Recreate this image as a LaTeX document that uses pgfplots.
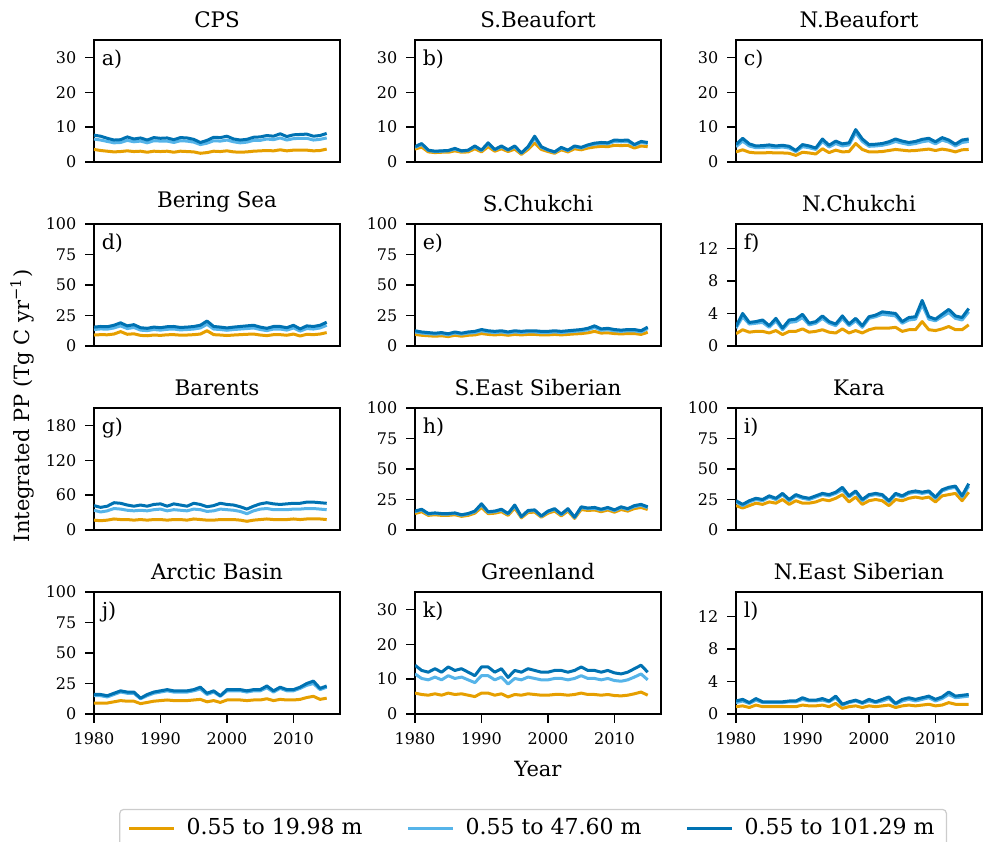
\documentclass[border=0pt]{standalone}
\usepackage{fontspec}
\setmainfont{DejaVu Serif}
\usepackage{pgfplots}
\usepackage{pgfplotstable}
\pgfplotsset{compat=1.18}
\usepgfplotslibrary{groupplots}
\definecolor{corange}{HTML}{E69F00}
\definecolor{clight}{HTML}{56B4E9}
\definecolor{cdark}{HTML}{0072B2}

\pgfplotstableread{
year o l d
1980 3.6 6.6 7.7
1981 3.3 6.3 7.4
1982 3.1 5.9 6.8
1983 2.9 5.5 6.3
1984 3.0 5.6 6.4
1985 3.2 6.2 7.2
1986 3.0 5.8 6.6
1987 3.1 6.0 6.9
1988 2.8 5.5 6.3
1989 3.1 6.1 7.0
1990 3.0 6.0 6.8
1991 3.1 6.0 6.9
1992 2.8 5.6 6.4
1993 3.1 6.1 7.0
1994 3.0 6.0 6.9
1995 2.9 5.7 6.5
1996 2.5 5.0 5.6
1997 2.7 5.4 6.2
1998 3.1 6.1 7.1
1999 3.0 6.0 7.0
2000 3.2 6.3 7.4
2001 2.9 5.8 6.6
2002 2.8 5.5 6.3
2003 2.9 5.7 6.5
2004 3.1 6.2 7.1
2005 3.2 6.2 7.2
2006 3.3 6.6 7.6
2007 3.2 6.4 7.4
2008 3.5 6.9 8.1
2009 3.2 6.3 7.3
2010 3.4 6.7 7.8
2011 3.4 6.8 7.9
2012 3.4 6.8 8.0
2013 3.2 6.3 7.4
2014 3.3 6.5 7.6
2015 3.7 6.9 8.2
}\ta

\pgfplotstableread{
year o l d
1980 3.7 4.2 4.4
1981 4.3 5.0 5.3
1982 2.9 3.3 3.4
1983 2.7 3.0 3.1
1984 2.8 3.1 3.2
1985 2.8 3.2 3.3
1986 3.2 3.7 3.9
1987 2.8 3.1 3.2
1988 2.9 3.3 3.4
1989 3.8 4.4 4.6
1990 2.9 3.3 3.4
1991 4.4 5.2 5.5
1992 3.1 3.5 3.6
1993 3.8 4.4 4.6
1994 3.0 3.4 3.5
1995 3.7 4.4 4.6
1996 2.2 2.5 2.6
1997 3.6 4.2 4.4
1998 5.5 6.8 7.4
1999 3.6 4.2 4.4
2000 3.0 3.4 3.5
2001 2.5 2.8 2.9
2002 3.5 4.0 4.2
2003 2.9 3.3 3.4
2004 3.8 4.4 4.6
2005 3.5 4.0 4.2
2006 4.0 4.7 4.9
2007 4.3 5.1 5.4
2008 4.5 5.3 5.6
2009 4.4 5.2 5.5
2010 4.8 5.9 6.3
2011 4.7 5.8 6.2
2012 4.8 5.9 6.3
2013 4.0 4.8 5.0
2014 4.6 5.6 5.9
2015 4.4 5.3 5.6
}\tb

\pgfplotstableread{
year o l d
1980 2.9 4.4 5.0
1981 3.5 6.0 6.8
1982 2.8 4.6 5.2
1983 2.6 4.1 4.6
1984 2.6 4.2 4.7
1985 2.7 4.3 4.9
1986 2.6 4.1 4.6
1987 2.6 4.3 4.8
1988 2.5 4.0 4.5
1989 1.9 3.0 3.3
1990 2.8 4.4 5.0
1991 2.6 4.1 4.6
1992 2.3 3.6 4.0
1993 3.8 5.9 6.6
1994 2.7 4.3 4.8
1995 3.4 5.3 6.0
1996 2.9 4.6 5.2
1997 3.0 4.9 5.5
1998 5.3 8.4 9.3
1999 3.6 5.9 6.6
2000 2.9 4.5 5.0
2001 2.9 4.6 5.1
2002 3.0 4.8 5.3
2003 3.3 5.2 5.8
2004 3.6 5.9 6.6
2005 3.4 5.4 6.0
2006 3.2 5.0 5.6
2007 3.3 5.3 5.9
2008 3.5 5.8 6.5
2009 3.7 6.1 6.8
2010 3.3 5.2 5.8
2011 3.7 6.3 7.0
2012 3.4 5.7 6.3
2013 2.9 4.6 5.1
2014 3.5 5.6 6.3
2015 3.6 5.9 6.6
}\tc

\pgfplotstableread{
year o l d
1980 9.0 13.5 15.5
1981 9.3 14.0 16.0
1982 9.2 13.8 15.8
1983 9.8 14.8 17.0
1984 11.8 16.5 19.0
1985 9.6 14.3 16.5
1986 10.0 15.2 17.5
1987 8.7 13.0 15.0
1988 8.4 12.6 14.5
1989 9.0 13.5 15.5
1990 8.7 13.0 15.0
1991 9.2 13.7 15.8
1992 9.3 13.9 16.0
1993 8.9 13.2 15.2
1994 9.0 13.5 15.5
1995 9.3 13.9 16.0
1996 9.8 14.8 17.0
1997 12.5 17.8 20.5
1998 9.3 13.9 16.0
1999 9.0 13.5 15.5
2000 8.6 12.9 14.8
2001 9.0 13.5 15.5
2002 9.3 13.9 16.0
2003 9.6 14.3 16.5
2004 9.8 14.8 17.0
2005 9.0 13.5 15.5
2006 8.5 12.6 14.5
2007 9.3 13.9 16.0
2008 9.3 13.9 16.0
2009 8.8 13.0 15.0
2010 9.8 14.8 17.0
2011 8.2 12.2 14.0
2012 9.6 14.3 16.5
2013 9.3 13.9 16.0
2014 9.8 14.8 17.0
2015 11.0 17.0 19.5
}\td

\pgfplotstableread{
year o l d
1980 9.5 11.5 12.5
1981 8.8 10.6 11.5
1982 8.4 10.1 11.0
1983 8.0 9.7 10.5
1984 8.4 10.1 11.0
1985 7.7 9.2 10.0
1986 8.8 10.6 11.5
1987 8.0 9.7 10.5
1988 8.8 10.6 11.5
1989 9.1 11.0 12.0
1990 10.2 12.4 13.5
1991 9.5 11.5 12.5
1992 9.1 11.0 12.0
1993 9.5 11.5 12.5
1994 8.8 10.6 11.5
1995 9.5 11.5 12.5
1996 9.1 11.0 12.0
1997 9.5 11.5 12.5
1998 9.5 11.5 12.5
1999 9.1 11.0 12.0
2000 9.1 11.0 12.0
2001 9.5 11.5 12.5
2002 9.1 11.0 12.0
2003 9.5 11.5 12.5
2004 9.9 12.0 13.0
2005 10.2 12.4 13.5
2006 10.8 13.3 14.5
2007 12.0 15.2 16.5
2008 10.6 12.9 14.0
2009 10.8 13.3 14.5
2010 10.2 12.4 13.5
2011 9.9 12.0 13.0
2012 10.2 12.4 13.5
2013 10.2 12.4 13.5
2014 9.5 11.5 12.5
2015 11.2 14.3 15.5
}\te

\pgfplotstableread{
year o l d
1980 1.5 2.2 2.4
1981 2.0 3.6 4.0
1982 1.7 2.7 2.9
1983 1.8 2.8 3.0
1984 1.8 2.9 3.2
1985 1.6 2.3 2.5
1986 1.9 3.1 3.4
1987 1.4 2.0 2.2
1988 1.8 2.9 3.2
1989 1.8 3.0 3.3
1990 2.1 3.5 3.9
1991 1.7 2.6 2.8
1992 1.8 2.8 3.0
1993 2.0 3.4 3.7
1994 1.7 2.8 3.0
1995 1.6 2.5 2.7
1996 2.1 3.4 3.7
1997 1.6 2.5 2.7
1998 1.9 3.1 3.4
1999 1.6 2.3 2.5
2000 2.0 3.4 3.6
2001 2.2 3.6 3.8
2002 2.2 3.9 4.2
2003 2.2 3.8 4.1
2004 2.3 3.7 4.0
2005 1.8 2.8 3.0
2006 2.0 3.2 3.5
2007 2.0 3.3 3.6
2008 3.0 5.1 5.6
2009 2.0 3.3 3.6
2010 1.9 3.1 3.3
2011 2.1 3.6 3.9
2012 2.4 4.1 4.5
2013 2.0 3.4 3.7
2014 2.0 3.2 3.5
2015 2.6 4.2 4.6
}\tf

\pgfplotstableread{
year o l d
1980 17 34 42
1981 16 31 39
1982 17 33 41
1983 19 37 47
1984 18 36 46
1985 18 34 43
1986 17 33 41
1987 18 34 43
1988 17 33 41
1989 18 35 44
1990 18 36 45
1991 17 33 41
1992 18 35 45
1993 18 34 43
1994 17 33 41
1995 19 36 46
1996 18 35 44
1997 17 32 40
1998 17 33 42
1999 18 36 46
2000 18 35 44
2001 18 34 43
2002 17 32 40
2003 15 28 36
2004 17 33 41
2005 18 36 45
2006 19 37 47
2007 18 35 45
2008 18 35 44
2009 18 35 45
2010 19 36 46
2011 18 36 46
2012 19 37 48
2013 19 37 48
2014 19 36 47
2015 18 35 46
}\tg

\pgfplotstableread{
year o l d
1980 13.5 15.0 15.5
1981 15.0 16.5 17.0
1982 12.0 13.0 13.5
1983 12.5 13.6 14.0
1984 12.0 13.1 13.5
1985 12.0 13.1 13.5
1986 12.5 13.6 14.0
1987 11.2 12.1 12.5
1988 12.0 13.1 13.5
1989 13.8 15.0 15.5
1990 18.5 20.5 21.5
1991 13.4 14.5 15.0
1992 13.8 15.0 15.5
1993 15.0 16.4 17.0
1994 12.0 13.1 13.5
1995 18.0 19.6 20.5
1996 10.0 10.7 11.0
1997 14.3 15.5 16.0
1998 14.7 16.0 16.5
1999 10.5 11.2 11.5
2000 13.8 15.0 15.5
2001 15.5 16.9 17.5
2002 11.6 12.6 13.0
2003 15.5 16.9 17.5
2004 9.5 10.2 10.5
2005 16.8 18.3 19.0
2006 16.0 17.4 18.0
2007 16.4 17.8 18.5
2008 15.0 16.4 17.0
2009 16.4 17.8 18.5
2010 14.6 15.9 16.5
2011 16.8 18.3 19.0
2012 15.5 16.9 17.5
2013 17.6 19.2 20.0
2014 18.5 20.2 21.0
2015 16.8 18.3 19.0
}\th

\pgfplotstableread{
year o l d
1980 20 23 24
1981 18 20 21
1982 20 23 24
1983 22 25 26
1984 21 24 25
1985 23 27 28
1986 22 25 26
1987 25 29 30
1988 21 24 25
1989 24 28 29
1990 22 26 27
1991 22 25 26
1992 23 27 28
1993 25 29 30
1994 24 28 29
1995 26 30 31
1996 29 33 35
1997 23 27 28
1998 27 31 32
1999 21 24 25
2000 24 28 29
2001 25 29 30
2002 24 28 29
2003 20 23 24
2004 25 29 30
2005 24 27 28
2006 26 30 31
2007 27 31 32
2008 26 30 31
2009 27 31 32
2010 23 26 27
2011 28 32 33
2012 29 34 35
2013 30 35 36
2014 24 27 28
2015 31 36 38
}\ti

\pgfplotstableread{
year o l d
1980 9.0 15.0 16
1981 9.0 15.0 16
1982 9.0 14.0 15
1983 10.0 16.0 17
1984 11.0 18.0 19
1985 10.5 17.0 18
1986 10.5 17.0 18
1987 8.5 12.5 13
1988 9.5 15.0 16
1989 10.5 17.0 18
1990 11.0 18.0 19
1991 11.5 19.0 20
1992 11.0 18.0 19
1993 11.0 18.0 19
1994 11.0 18.0 19
1995 11.5 19.0 20
1996 12.0 20.5 22
1997 10.0 16.0 17
1998 11.0 18.0 19
1999 9.5 14.5 15
2000 11.5 19.0 20
2001 11.5 19.0 20
2002 11.5 19.0 20
2003 11.0 18.0 19
2004 11.5 19.0 20
2005 11.5 19.0 20
2006 12.5 21.5 23
2007 11.0 18.0 19
2008 12.0 21.0 22
2009 11.5 19.0 20
2010 11.5 19.0 20
2011 12.0 21.0 22
2012 13.5 23.5 25
2013 14.5 25.0 27
2014 12.0 20.0 21
2015 13.0 22.0 23
}\tj

\pgfplotstableread{
year o l d
1980 6.0 11.5 14.0
1981 5.6 10.2 12.5
1982 5.4 9.8 12.0
1983 5.8 10.6 13.0
1984 5.4 9.8 12.0
1985 6.0 11.0 13.5
1986 5.6 10.2 12.5
1987 5.8 10.6 13.0
1988 5.4 9.8 12.0
1989 5.0 9.0 11.0
1990 6.0 11.0 13.5
1991 6.0 11.0 13.5
1992 5.4 9.8 12.0
1993 5.8 10.6 13.0
1994 4.9 8.6 10.5
1995 5.6 10.2 12.5
1996 5.4 9.8 12.0
1997 5.8 10.6 13.0
1998 5.6 10.2 12.5
1999 5.4 9.8 12.0
2000 5.4 9.8 12.0
2001 5.6 10.2 12.5
2002 5.6 10.2 12.5
2003 5.4 9.8 12.0
2004 5.6 10.2 12.5
2005 6.0 11.0 13.5
2006 5.6 10.2 12.5
2007 5.6 10.2 12.5
2008 5.4 9.8 12.0
2009 5.6 10.2 12.5
2010 5.3 9.6 11.8
2011 5.2 9.4 11.5
2012 5.4 9.8 12.0
2013 5.8 10.6 13.0
2014 6.3 11.5 14.0
2015 5.4 9.8 12.0
}\tk

\pgfplotstableread{
year o l d
1980 0.9 1.4 1.6
1981 1.0 1.6 1.8
1982 0.8 1.3 1.4
1983 1.1 1.7 1.9
1984 0.9 1.4 1.5
1985 0.9 1.4 1.5
1986 0.9 1.4 1.5
1987 0.9 1.4 1.5
1988 0.9 1.5 1.6
1989 0.9 1.5 1.6
1990 1.1 1.8 2.0
1991 1.0 1.6 1.7
1992 1.0 1.6 1.7
1993 1.1 1.7 1.9
1994 0.9 1.5 1.6
1995 1.3 2.0 2.2
1996 0.7 1.1 1.2
1997 0.9 1.4 1.5
1998 1.0 1.6 1.7
1999 0.8 1.3 1.4
2000 1.0 1.6 1.8
2001 0.9 1.4 1.5
2002 1.0 1.6 1.8
2003 1.1 1.9 2.1
2004 0.8 1.2 1.3
2005 1.0 1.6 1.8
2006 1.1 1.8 2.0
2007 1.0 1.6 1.8
2008 1.1 1.8 2.0
2009 1.2 2.0 2.2
2010 1.0 1.6 1.8
2011 1.1 1.9 2.1
2012 1.4 2.4 2.7
2013 1.2 2.0 2.2
2014 1.2 2.1 2.3
2015 1.2 2.2 2.4
}\tl

\newcommand{\threelines}[1]{%
  \addplot[corange] table[x=year,y=o]{#1};
  \addplot[clight] table[x=year,y=l]{#1};
  \addplot[cdark] table[x=year,y=d]{#1};
}
\newcommand{\plab}[1]{\node[anchor=north west, inner sep=0pt, font=\fontsize{10.3}{12}\selectfont] at (rel axis cs:0.03,0.92) {#1};}

\begin{document}
\begin{tikzpicture}
\begin{groupplot}[
  group style={group size=3 by 4, horizontal sep=37.5pt, vertical sep=31pt},
  scale only axis, width=123pt, height=61pt,
  xmin=1980, xmax=2017, ymin=0,
  axis line style={line width=0.8pt},
  tick align=outside, xtick pos=bottom, ytick pos=left,
  major tick length=4.3pt, tick style={line width=0.7pt, black},
  /pgf/number format/assume math mode=true,
  /pgf/number format/1000 sep={},
  tick label style={font=\fontsize{8}{9}\selectfont},
  xticklabel style={yshift=-1.5pt},
  yticklabel style={xshift=-1pt},
  title style={font=\fontsize{10.7}{12}\selectfont, yshift=-3.5pt},
  every axis plot/.append style={line width=1.5pt, line join=round, mark=none},
  xtick={1980,1990,2000,2010},
  legend image code/.code={\draw[#1] (0pt,0pt) -- (22.5pt,0pt);},
]
\nextgroupplot[title={CPS}, ymax=35, ytick={0,10,20,30}, xtick=\empty]
\threelines{\ta}\plab{a)}
\nextgroupplot[title={S.Beaufort}, ymax=35, ytick={0,10,20,30}, xtick=\empty]
\threelines{\tb}\plab{b)}
\nextgroupplot[title={N.Beaufort}, ymax=35, ytick={0,10,20,30}, xtick=\empty]
\threelines{\tc}\plab{c)}
\nextgroupplot[title={Bering Sea}, ymax=100, ytick={0,25,50,75,100}, xtick=\empty]
\threelines{\td}\plab{d)}
\nextgroupplot[title={S.Chukchi}, ymax=100, ytick={0,25,50,75,100}, xtick=\empty]
\threelines{\te}\plab{e)}
\nextgroupplot[title={N.Chukchi}, ymax=15, ytick={0,4,8,12}, xtick=\empty]
\threelines{\tf}\plab{f)}
\nextgroupplot[title={Barents}, ymax=210, ytick={0,60,120,180}, xtick=\empty]
\threelines{\tg}\plab{g)}
\nextgroupplot[title={S.East Siberian}, ymax=100, ytick={0,25,50,75,100}, xtick=\empty]
\threelines{\th}\plab{h)}
\nextgroupplot[title={Kara}, ymax=100, ytick={0,25,50,75,100}, xtick=\empty]
\threelines{\ti}\plab{i)}
\nextgroupplot[title={Arctic Basin}, ymax=100, ytick={0,25,50,75,100}]
\threelines{\tj}\plab{j)}
\nextgroupplot[title={Greenland}, ymax=35, ytick={0,10,20,30},
  xlabel={Year}, xlabel style={font=\fontsize{10.5}{12}\selectfont, yshift=-1.5pt},
  legend columns=3,
  legend style={at={(axis description cs:0.48,-0.935)}, anchor=center,
    draw=black!20, rounded corners=2pt, line width=0.6pt,
    font=\fontsize{11}{12}\selectfont,
    /tikz/every even column/.append style={column sep=20pt},
    /tikz/every odd column/.append style={column sep=3.5pt},
    inner xsep=4pt, inner ysep=2.5pt},
  legend entries={0.55 to 19.98 m, 0.55 to 47.60 m, 0.55 to 101.29 m}]
\threelines{\tk}\plab{k)}
\nextgroupplot[title={N.East Siberian}, ymax=15, ytick={0,4,8,12}]
\threelines{\tl}\plab{l)}
\end{groupplot}
\node[rotate=90, font=\fontsize{10.5}{12}\selectfont] at ([shift={(-36pt,-183pt)}]group c1r1.north west) {Integrated PP (Tg C yr\textsuperscript{−1})};
\pgfresetboundingbox
\path[use as bounding box] ([shift={(-47pt,20pt)}]group c1r1.north west) rectangle ++(492pt,-420.5pt);
\end{tikzpicture}
\end{document}
